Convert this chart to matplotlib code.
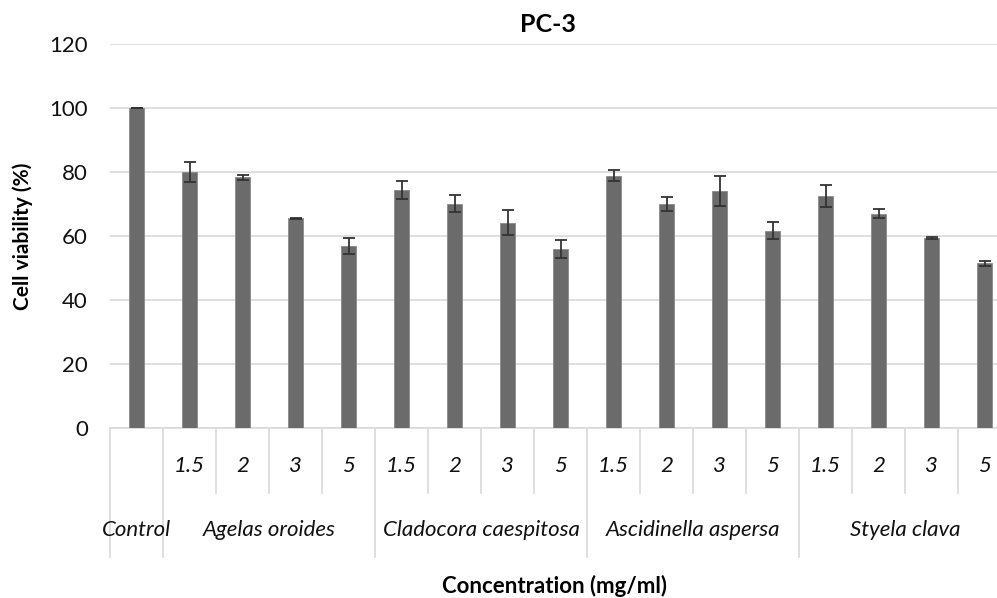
import matplotlib.pyplot as plt
import numpy as np

plt.rcParams['font.family'] = ['Lato', 'DejaVu Sans']

groups = ['Control', 'Agelas oroides', 'Cladocora caespitosa',
          'Ascidinella aspersa', 'Styela clava']
concs = ['1.5', '2', '3', '5']

control = [100.0]
control_err = [0.0]
agelas = [80.0, 78.3, 65.5, 56.9]
agelas_err = [3.0, 0.8, 0.2, 2.4]
cladocora = [74.4, 70.1, 64.2, 55.8]
cladocora_err = [2.9, 2.7, 3.9, 2.8]
ascidinella = [78.9, 70.0, 74.2, 61.7]
ascidinella_err = [1.7, 2.1, 4.7, 2.7]
styela = [72.5, 67.0, 59.4, 51.5]
styela_err = [3.3, 1.4, 0.3, 0.8]

vals = control + agelas + cladocora + ascidinella + styela
errs = control_err + agelas_err + cladocora_err + ascidinella_err + styela_err
sizes = [1, 4, 4, 4, 4]
inner = [''] + concs * 4

W, H = 997, 598
fig = plt.figure(figsize=(W / 100, H / 100), dpi=100)
left, right, top, bot = 110, 1011, 44, 428
ax = fig.add_axes([left / W, 1 - bot / H, (right - left) / W, (bot - top) / H])

x = np.arange(len(vals))
ax.bar(x, vals, width=0.3, color='#6b6b6b', edgecolor='#8a8a8a', linewidth=0.6, zorder=3)
ax.errorbar(x, vals, yerr=errs, fmt='none', ecolor='#333333', elinewidth=1.3,
            capsize=4, capthick=1.3, zorder=4)

ax.set_xlim(-0.5, len(vals) - 0.5)
ax.set_ylim(0, 120)
ax.set_yticks(range(0, 121, 20))
ax.yaxis.grid(True, color='#d9d9d9', linewidth=1.2, zorder=0)
ax.tick_params(axis='y', length=0, labelsize=16, pad=16, labelcolor='#111111')
ax.set_xticks([])
for s in ['top', 'right', 'left']:
    ax.spines[s].set_visible(False)
ax.spines['bottom'].set_color('#d9d9d9')
ax.spines['bottom'].set_linewidth(1.2)

trans = ax.get_xaxis_transform()
ph = bot - top
y_inner = -(465.7 - bot) / ph
y_outer = -(530 - bot) / ph
y_short = -(492.7 - bot) / ph
y_long = -(556.7 - bot) / ph

for i, lab in enumerate(inner):
    ax.text(i, y_inner, lab, transform=trans, ha='center', va='center',
            fontsize=16, style='italic', color='#111111')

# group boundaries
starts = np.concatenate([[0], np.cumsum(sizes)])
for i in range(len(vals) + 1):
    xb = i - 0.5
    y2 = y_long if i in starts else y_short
    ax.plot([xb, xb], [0, y2], transform=trans, color='#d9d9d9', lw=1.2, clip_on=False)

for g, s0, n in zip(groups, starts[:-1], sizes):
    ax.text(s0 + (n - 1) / 2, y_outer, g, transform=trans, ha='center', va='center',
            fontsize=16, style='italic', color='#111111')

fig.text(548 / W, 1 - 25 / H, 'PC-3', ha='center', va='center', fontsize=18, fontweight='bold')
fig.text(554 / W, 1 - 586 / H, 'Concentration (mg/ml)', ha='center', va='center',
         fontsize=16, fontweight='bold')
fig.text(23 / W, 1 - 236 / H, 'Cell viability (%)', ha='center', va='center',
         fontsize=15, fontweight='bold', rotation=90)

fig.savefig('out.png', dpi=100)
